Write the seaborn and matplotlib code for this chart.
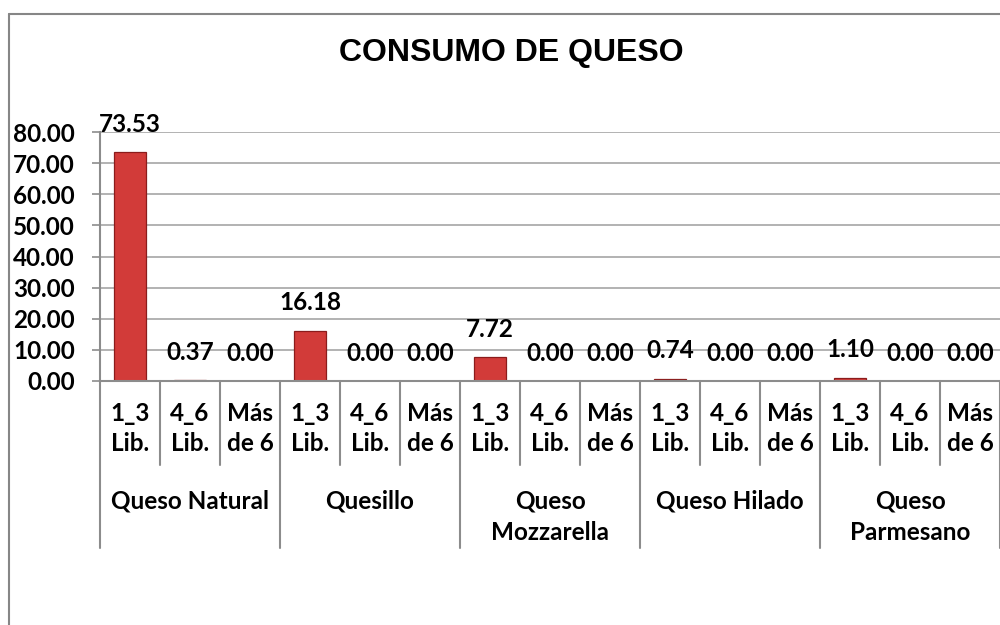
import pandas as pd
import matplotlib.pyplot as plt
import seaborn as sns
from matplotlib.lines import Line2D
import matplotlib.transforms as mtransforms

groups = ['Queso Natural', 'Quesillo', 'Queso\nMozzarella', 'Queso Hilado', 'Queso\nParmesano']
sizes = ['1_3\nLib.', '4_6\nLib.', 'Más\nde 6']
values = [73.53, 0.37, 0.00,
          16.18, 0.00, 0.00,
          7.72, 0.00, 0.00,
          0.74, 0.00, 0.00,
          1.10, 0.00, 0.00]

rows = []
for gi, g in enumerate(groups):
    for si, s in enumerate(sizes):
        rows.append({'pos': gi * len(sizes) + si, 'grupo': g, 'tam': s,
                     'valor': values[gi * len(sizes) + si]})
df = pd.DataFrame(rows)

sns.set_theme(style='white')
plt.rcParams['font.family'] = ['Lato', 'DejaVu Sans']
plt.rcParams['font.weight'] = 'bold'
plt.rcParams['text.color'] = 'black'
plt.rcParams['ytick.labelcolor'] = 'black'

fig = plt.figure(figsize=(10, 6.25), dpi=100)
ax = fig.add_axes([0.1, 1 - 381 / 625, 0.9, 249 / 625])

sns.barplot(data=df, x='pos', y='valor', color='#d23b39', width=0.52,
            edgecolor='#8b1c1c', linewidth=0.9, saturation=1, ax=ax)

ax.set_xlim(-0.5, len(values) - 0.5)
ax.set_ylim(0, 80)
ax.set_yticks(range(0, 81, 10))
ax.set_yticklabels([f'{v:.2f}' for v in range(0, 81, 10)], fontsize=17.5,
                   fontweight='bold', color='black')
ax.set_xticks([])
ax.set_xlabel('')
ax.set_ylabel('')
ax.yaxis.grid(True, color='#a6a6a6', linewidth=1.2)
ax.set_axisbelow(True)
ax.tick_params(axis='y', length=6, width=1.2, color='#8c8c8c', pad=12, direction='out', left=True)
for side in ['top', 'right']:
    ax.spines[side].set_visible(False)
for side in ['left', 'bottom']:
    ax.spines[side].set_color('#8c8c8c')
    ax.spines[side].set_linewidth(1.5)

# data labels
for i, v in enumerate(values):
    ax.annotate(f'{v:.2f}', (i, v), xytext=(0, 20), textcoords='offset points',
                ha='center', va='center', fontsize=17.5, fontweight='bold', color='black')

# category axis (two levels)
trans = mtransforms.blended_transform_factory(ax.transData, ax.transAxes)
n = len(values)
for k in range(n + 1):
    bottom = -0.671 if k % len(sizes) == 0 else -0.337
    ax.add_line(Line2D([k - 0.5, k - 0.5], [0, bottom], transform=trans, color='#8c8c8c',
                       linewidth=1.5, clip_on=False))
for i, r in df.iterrows():
    ax.text(r['pos'], -0.19, r['tam'], transform=trans, ha='center', va='center',
            fontsize=17.5, fontweight='bold', linespacing=1.4, color='black')
for gi, g in enumerate(groups):
    ax.text(gi * len(sizes) + 1, -0.435, g, transform=trans, ha='center', va='top',
            fontsize=17.5, fontweight='bold', linespacing=1.45, color='black')

fig.text(0.511, 1 - 53 / 625, 'CONSUMO DE QUESO', ha='center', va='center', color='black',
         fontsize=23, fontweight='bold', family=['Liberation Sans', 'DejaVu Sans'])

# chart area border
fig.add_artist(Line2D([0.009, 0.009], [0, 1 - 14 / 625], color='#868686', linewidth=1.5))
fig.add_artist(Line2D([0.009, 1.0], [1 - 14 / 625, 1 - 14 / 625], color='#868686', linewidth=1.5))

fig.savefig('out.png', dpi=100)
